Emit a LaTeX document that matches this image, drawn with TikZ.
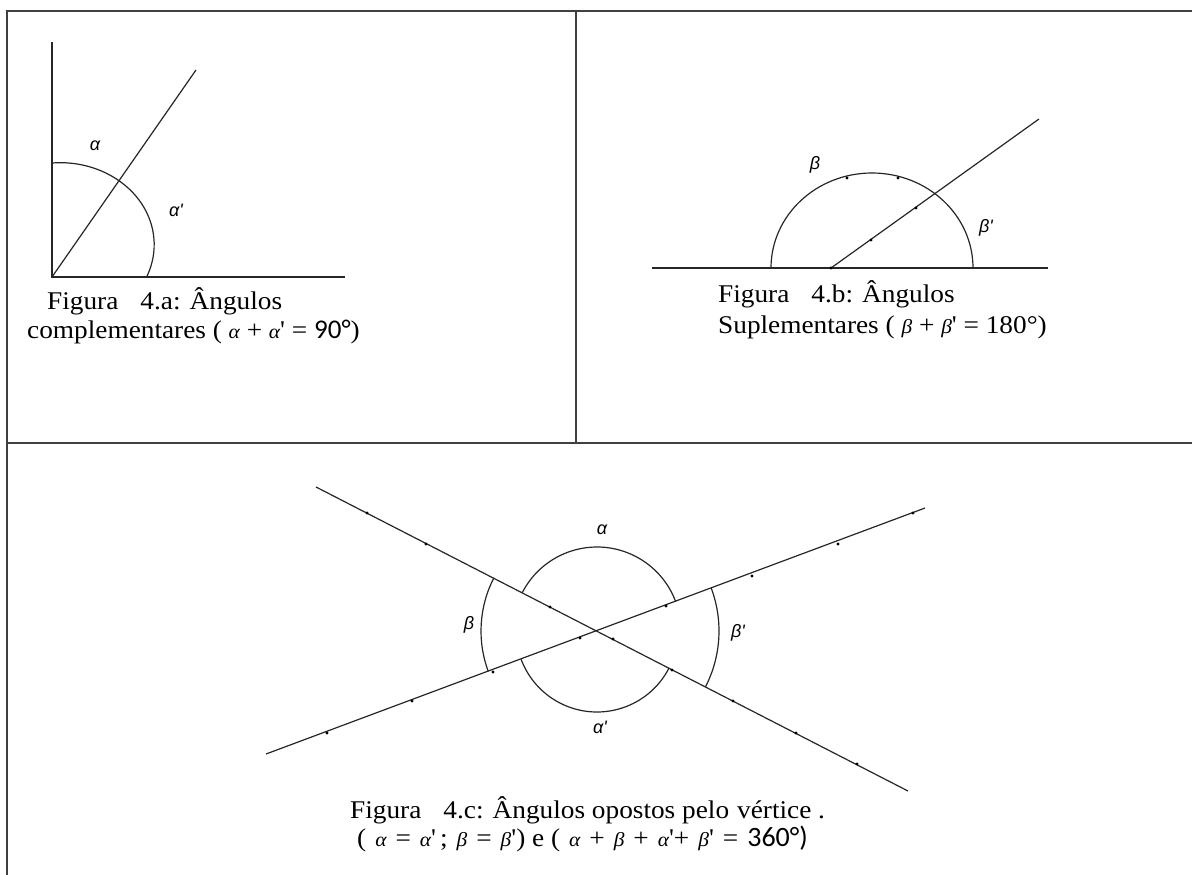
\documentclass[tikz,border=0pt]{standalone}
\usepackage{fontspec}
\usetikzlibrary{calc}
\setmainfont{Liberation Serif}
\newfontfamily\capfont{Liberation Serif}[FakeStretch=1.07]
\newfontfamily\numfont{Carlito}
\newfontfamily\labfont{Liberation Sans}
\begin{document}
\begin{tikzpicture}[x=1pt,y=-1pt,
  frame/.style={draw=black!75,line width=2pt},
  geo/.style={draw=black!85,line width=1.2pt},
  lab/.style={font=\labfont\itshape\fontsize{18}{18}\selectfont,inner sep=0pt},
  captxt/.style={font=\capfont\fontsize{25.5}{27}\selectfont,anchor=base west,inner sep=0pt},
  dotm/.style={fill=black}]
\useasboundingbox (0,0) rectangle (1192,875);
\newcommand{\gk}[1]{{\fontsize{20}{20}\selectfont\itshape #1}}
\newcommand{\wsp}{\hspace{9pt}}
% frame
\draw[frame] (7,875) -- (7,11) -- (1192,11);
\draw[frame] (7,443) -- (1192,443);
\draw[frame] (576,11) -- (576,443);

% ---------- Figure 4.a ----------
\coordinate (Oa) at (52,277);
\coordinate (Va) at (52,42);
\coordinate (Ha) at (345,277);
\coordinate (Da) at (196,70);
\draw[geo] (Va) -- (Oa) -- (Ha);
\draw[geo] (Oa) -- (Da);
\draw[geo] (52,163) arc[start angle=-95,end angle=23,x radius=94,y radius=82];
\node[lab] (la1) at (95,146) {α};
\node[lab] (la2) at (176,210) {α'};
\node[captxt] (ca1) at (47,309) {Figura\hspace{22pt}4.a: Ângulos};
\node[captxt] (ca2) at (27,338) {complementares ( \gk{α} + \gk{α}' = {\numfont\fontsize{27}{27}\selectfont 90°})};

% ---------- Figure 4.b ----------
\coordinate (Lb) at (652,268);
\coordinate (Rb) at (1048,268);
\coordinate (Ob) at (831,268);
\coordinate (Db) at (1039,119);
\draw[geo] (Lb) -- (Rb);
\draw[geo] (Ob) -- (Db);
\draw[geo] (771,268) arc[start angle=180,end angle=360,x radius=101,y radius=95];
\foreach \p in {(831,268),(871,240),(916,208),(847,178),(898,178)} \fill[dotm] \p circle (1.6);
\node[lab] (lb1) at (815,165) {β};
\node[lab] (lb2) at (986,228) {β'};
\node[captxt] (cb1) at (718,302) {Figura\hspace{22pt}4.b: Ângulos};
\node[captxt] (cb2) at (718,333) {Suplementares ( \gk{β} + \gk{β}' = 180°)};

% ---------- Figure 4.c ----------
\coordinate (X) at (597,631);
\coordinate (A1) at (316,487);
\coordinate (B1) at (908,791);
\coordinate (A2) at (266,754);
\coordinate (B2) at (925,508);
\draw[geo] (A1) -- (B1);
\draw[geo] (A2) -- (B2);
\draw[geo] ($(X)+(-152.9:84)$) arc[start angle=-152.9,end angle=-20.6,radius=84];
\draw[geo] ($(X)+(27.2:81)$) arc[start angle=27.2,end angle=159.6,radius=81];
\draw[geo] ($(X)+(159.6:116)$) arc[start angle=159.6,end angle=207.1,radius=116];
\draw[geo] ($(X)+(-20.6:122)$) arc[start angle=-20.6,end angle=27.2,radius=122];
\foreach \p in {(367,513),(426,544),(550,607),(613,639),(672,670),(733,701),(796,733),(857,764),
                (327,733),(412,701),(493,672),(580,638),(666,606),(752,576),(838,544),(913,513)}
  \fill[dotm] \p circle (1.6);
\node[lab] (lc1) at (602,530) {α};
\node[lab] (lc2) at (600,727) {α'};
\node[lab] (lc3) at (469,625) {β};
\node[lab] (lc4) at (738,633) {β'};
\node[captxt] (cc1) at (350,818) {Figura\hspace{22pt}4.c: Ângulos opostos pelo\hspace{8pt}vértice .};
\node[captxt] (cc2) at (357,846) {(\wsp\gk{α}\wsp=\wsp\gk{α}'\hspace{4pt};\wsp\gk{β}\wsp=\wsp\gk{β}') e (\wsp\gk{α}\wsp+\wsp\gk{β}\wsp+\wsp\gk{α}'+\wsp\gk{β}'\wsp=\wsp{\numfont\fontsize{28}{28}\selectfont 360°)}};
\end{tikzpicture}
\end{document}
